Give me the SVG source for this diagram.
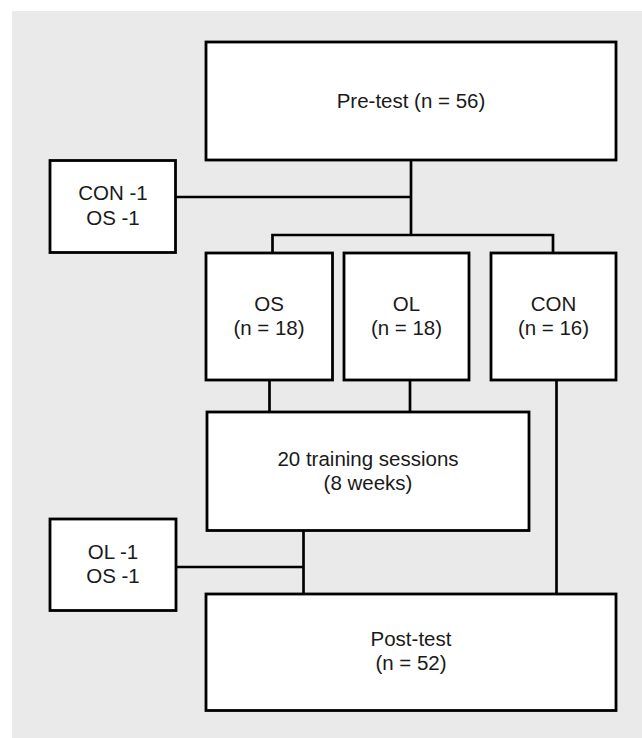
<svg xmlns="http://www.w3.org/2000/svg" width="642" height="738" viewBox="0 0 642 738">
<style>
.box{fill:#ffffff;stroke:#000000;stroke-width:2.8}
.ln{fill:none;stroke:#000000;stroke-width:2.7;stroke-linecap:butt}
text{font-family:"Liberation Sans","Noto Sans",Arial,sans-serif;font-size:20.5px;fill:#1a1a1a;text-anchor:middle}
</style>
<rect x="12" y="11" width="630" height="727" fill="#eaeaea"/>
<g id="connectors">
<line class="ln" x1="411" y1="160" x2="411" y2="236"/>
<line class="ln" x1="176" y1="197" x2="411" y2="197"/>
<polyline class="ln" points="272.5,253 272.5,235 553,235 553,253"/>
<line class="ln" x1="269.5" y1="380" x2="269.5" y2="412"/>
<line class="ln" x1="410" y1="380" x2="410" y2="412"/>
<line class="ln" x1="303.5" y1="530" x2="303.5" y2="594"/>
<line class="ln" x1="176" y1="567" x2="303.5" y2="567"/>
<line class="ln" x1="556.5" y1="380" x2="556.5" y2="594"/>
</g>
<g id="pretest">
<rect class="box" x="206" y="42" width="410" height="118"/>
<text x="411" y="108">Pre-test (n = 56)</text>
</g>
<g id="dropout1">
<rect class="box" x="50" y="160.5" width="125.5" height="92"/>
<text x="113" y="200">CON -1</text>
<text x="113" y="225">OS -1</text>
</g>
<g id="os">
<rect class="box" x="206" y="253" width="126.5" height="127"/>
<text x="269" y="311">OS</text>
<text x="269" y="335">(n = 18)</text>
</g>
<g id="ol">
<rect class="box" x="344" y="253" width="125" height="127"/>
<text x="406.5" y="311">OL</text>
<text x="406.5" y="335">(n = 18)</text>
</g>
<g id="con">
<rect class="box" x="491" y="253" width="125" height="127"/>
<text x="553.5" y="311">CON</text>
<text x="553.5" y="335">(n = 16)</text>
</g>
<g id="training">
<rect class="box" x="207" y="412" width="322" height="118.5"/>
<text x="368" y="466">20 training sessions</text>
<text x="368" y="490">(8 weeks)</text>
</g>
<g id="dropout2">
<rect class="box" x="50" y="519" width="126" height="91.5"/>
<text x="113" y="559">OL -1</text>
<text x="113" y="583">OS -1</text>
</g>
<g id="posttest">
<rect class="box" x="206" y="594" width="410" height="116.5"/>
<text x="411" y="646">Post-test</text>
<text x="411" y="670">(n = 52)</text>
</g>
</svg>
